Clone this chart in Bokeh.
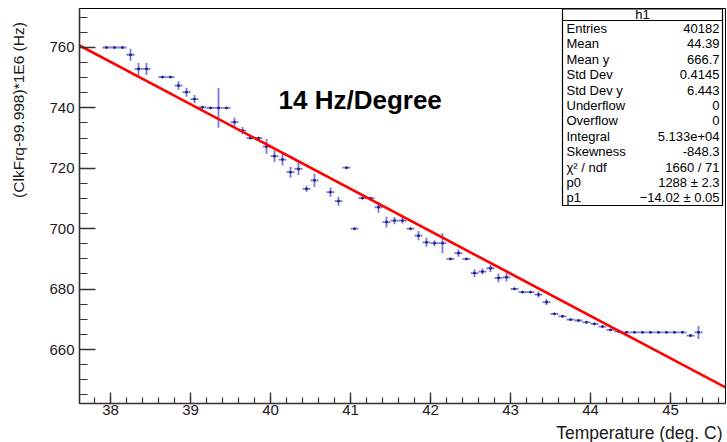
from bokeh.plotting import figure
from bokeh.models import Range1d, SingleIntervalTicker, Label
from bokeh.layouts import row, column
from bokeh.core.properties import value
from bokeh.embed import file_html
from bokeh.resources import INLINE

# ---- data (profile bins: centre, mean, error) ----
temp = [37.95, 38.05, 38.15, 38.25, 38.35, 38.45, 38.65, 38.75, 38.85, 38.95,
        39.05, 39.15, 39.25, 39.35, 39.45, 39.55, 39.65, 39.75, 39.85, 39.95,
        40.05, 40.15, 40.25, 40.35, 40.45, 40.55, 40.75, 40.85, 40.95, 41.05,
        41.15, 41.25, 41.35, 41.45, 41.55, 41.65, 41.75, 41.85, 41.95, 42.05,
        42.15, 42.25, 42.35, 42.45, 42.55, 42.65, 42.75, 42.85, 42.95, 43.05,
        43.15, 43.25, 43.35, 43.45, 43.55, 43.65, 43.75, 43.85, 43.95, 44.05,
        44.15, 44.25, 44.35, 44.45, 44.55, 44.65, 44.75, 44.85, 44.95, 45.05,
        45.15, 45.25, 45.35]
freq = [760.0, 760.0, 760.0, 757.6, 752.9, 752.9, 750.2, 750.2, 747.4, 745.2,
        742.9, 740.2, 740.0, 740.0, 740.0, 735.3, 732.5, 730.0, 730.0, 727.2,
        724.0, 722.9, 718.7, 719.8, 713.2, 716.0, 712.1, 709.1, 720.2, 700.0,
        710.1, 710.1, 707.1, 702.2, 702.7, 702.7, 700.0, 697.7, 695.5, 695.2,
        695.2, 690.0, 691.9, 690.0, 685.3, 685.8, 686.9, 683.7, 683.9, 680.1,
        679.0, 679.0, 678.2, 675.7, 671.8, 671.0, 669.9, 669.6, 669.0, 668.5,
        667.6, 666.5, 666.0, 665.7, 665.7, 665.7, 665.7, 665.7, 665.7, 665.7,
        665.7, 664.6, 665.7]
ferr = [0.2, 0.2, 0.2, 2.0, 2.0, 2.0, 0.3, 0.3, 1.4, 1.5,
        1.4, 0.3, 0.3, 6.6, 0.3, 1.5, 1.2, 0.4, 0.4, 2.5,
        2.0, 2.0, 1.8, 2.0, 1.0, 2.2, 1.5, 1.5, 0.2, 0.2,
        0.3, 0.3, 1.8, 1.8, 1.2, 1.0, 0.2, 1.5, 1.5, 1.0,
        3.3, 0.2, 1.2, 0.2, 1.3, 1.0, 1.2, 1.5, 1.4, 0.2,
        0.2, 0.3, 1.0, 1.0, 0.3, 0.3, 0.2, 0.2, 0.2, 0.2,
        0.2, 0.2, 0.2, 0.1, 0.1, 0.1, 0.1, 0.1, 0.1, 0.1,
        0.1, 0.5, 2.2]
bin_width = 0.1

# fit parameters
p0 = 1288.0
p1 = -14.02

stat_names = ["Entries", "Mean", "Mean y", "Std Dev", "Std Dev y", "Underflow",
              "Overflow", "Integral", "Skewness", "χ² / ndf", "p0", "p1"]
stat_values = ["40182", "44.39", "666.7", "0.4145", "6.443", "0", "0",
               "5.133e+04", "-848.3", "1660 / 71", "1288 ± 2.3", "−14.02 ± 0.05"]

x_title = "Temperature (deg. C)"
y_title = "(ClkFrq-99.998)*1E6  (Hz)"
x_ticks_interval = 1
y_ticks_interval = 20

# ---- geometry (page pixels) ----
W, H = 727, 442
YT_W = 40            # strip holding the y title
XT_H = 20            # strip holding the x title
FL, FT, FR, FB = 79, 8, 725, 403
X0, X1 = 37.6125, 45.6875
Y0, Y1 = 642.12, 772.91
FONT = "Liberation Sans"


def px2x(px):
    return X0 + (px - FL) * (X1 - X0) / (FR - FL)


def py2y(py):
    return Y1 - (py - FT) * (Y1 - Y0) / (FB - FT)


def strip(w, h):
    f = figure(width=w, height=h, x_range=Range1d(0, w), y_range=Range1d(0, h),
               output_backend="svg", toolbar_location=None,
               x_axis_type=None, y_axis_type=None, min_border=0)
    f.outline_line_color = None
    f.xgrid.visible = False
    f.ygrid.visible = False
    return f


MAIN_H = H - XT_H
p = figure(width=W - YT_W, height=MAIN_H, x_range=Range1d(X0, X1),
           y_range=Range1d(Y0, Y1), output_backend="svg", toolbar_location=None,
           min_border_left=FL - YT_W, min_border_right=W - FR, min_border_top=FT,
           min_border_bottom=MAIN_H - FB)
p.xgrid.visible = False
p.ygrid.visible = False
p.outline_line_color = "black"
p.outline_line_width = 1
p.outline_line_alpha = 1
p.background_fill_color = "white"
p.border_fill_color = "white"

p.xaxis.ticker = SingleIntervalTicker(interval=x_ticks_interval, num_minor_ticks=5)
p.yaxis.ticker = SingleIntervalTicker(interval=y_ticks_interval, num_minor_ticks=4)
for ax in (p.xaxis[0], p.yaxis[0]):
    ax.axis_line_color = "#333333"
    ax.axis_line_width = 1.6
    ax.major_tick_line_color = "#333333"
    ax.minor_tick_line_color = "#333333"
    ax.major_tick_line_width = 1.4
    ax.minor_tick_line_width = 1.2
    ax.major_tick_out = 0
    ax.minor_tick_out = 0
    ax.major_label_text_font = FONT
    ax.major_label_text_font_size = "15px"
    ax.major_label_text_color = "#1a1a1a"
p.xaxis.major_tick_in = 11
p.xaxis.minor_tick_in = 6
p.yaxis.major_tick_in = 16
p.yaxis.minor_tick_in = 8
p.xaxis.major_label_standoff = 1
p.yaxis.major_label_standoff = 5

# ---- error bars ----
bar_col = "#7878de"
p.segment(x0=[t - bin_width / 2 for t in temp], x1=[t + bin_width / 2 for t in temp],
          y0=freq, y1=freq, line_color=bar_col, line_width=1.8)
p.segment(x0=temp, x1=temp, y0=[f - e for f, e in zip(freq, ferr)],
          y1=[f + e for f, e in zip(freq, ferr)], line_color=bar_col, line_width=1.8)
p.scatter(temp, freq, size=2.0, color="#22227a")

# ---- fit line ----
fx = [X0, X1]
fy = [p0 + p1 * x for x in fx]
p.line(fx, fy, line_color="#ff0000", line_width=2.6)

# ---- annotation text ----
p.add_layout(Label(x=px2x(278), y=py2y(99), text="14 Hz/Degree", text_font=FONT,
                   text_font_size="26px", text_font_style="bold", text_color="black",
                   text_baseline="middle", text_align="left"))

# ---- stats box ----
BL, BR, BT, BB = 562, 722, 8.5, 205
p.quad(left=px2x(BL), right=px2x(BR), top=py2y(BT), bottom=py2y(BB),
       fill_color="white", line_color="black", line_width=1.2)
p.segment(x0=[px2x(BL)], x1=[px2x(BR)], y0=[py2y(20)], y1=[py2y(20)],
          line_color="black", line_width=1)
p.add_layout(Label(x=px2x((BL + BR) / 2), y=py2y(14), text="h1", text_font=FONT,
                   text_font_size="13px", text_align="center", text_baseline="middle",
                   text_color="black"))
for i, (n, v) in enumerate(zip(stat_names, stat_values)):
    yy = py2y(28 + 15.4 * i)
    p.add_layout(Label(x=px2x(566), y=yy, text=n, text_font=FONT, text_font_size="13px",
                       text_align="left", text_baseline="middle", text_color="black"))
    p.add_layout(Label(x=px2x(719), y=yy, text=v, text_font=FONT, text_font_size="13px",
                       text_align="right", text_baseline="middle", text_color="black"))

# ---- axis title strips ----
ys = strip(YT_W, MAIN_H)
ys.text(x=[18], y=[MAIN_H - 10], text=[y_title], angle=1.5708,
        text_font=value(FONT), text_font_size="15.5px", text_align="right",
        text_baseline="middle", text_color="#1a1a1a")

xs = strip(W, XT_H)
xs.text(x=[722], y=[XT_H / 2], text=[x_title], text_font=value(FONT),
        text_font_size="17.5px", text_align="right", text_baseline="middle",
        text_color="#1a1a1a")

layout = column(row(ys, p, spacing=0), xs, spacing=0)
open("out.html", "w").write(file_html(layout, INLINE))
